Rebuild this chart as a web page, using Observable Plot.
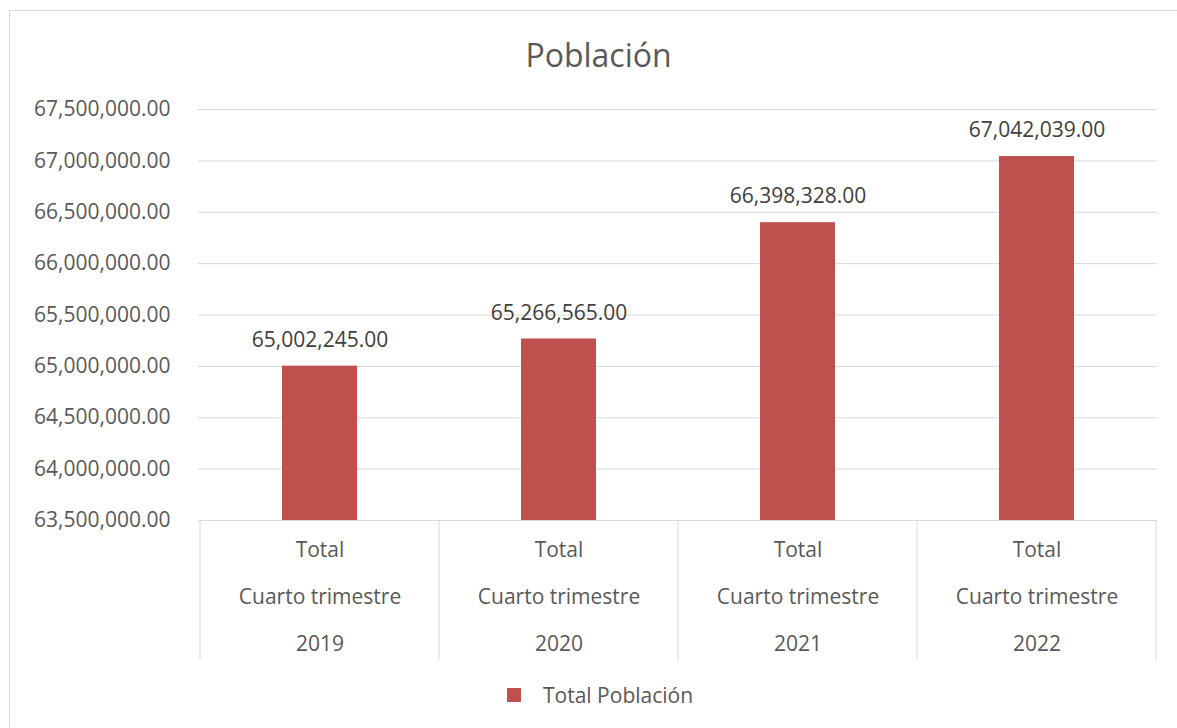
<!DOCTYPE html>
<html>
<head>
<meta charset="utf-8">
<script src="https://cdn.jsdelivr.net/npm/d3@7"></script>
<script src="https://cdn.jsdelivr.net/npm/@observablehq/plot@0.6"></script>
<style>
  body { margin: 0; background: #fff; font-family: "Open Sans", sans-serif; }
  #wrap { position: relative; width: 1177px; height: 728px; overflow: hidden; background: #fff; }
  #border { position: absolute; left: 9px; top: 10px; width: 1200px; height: 760px; border: 1px solid #d9d9d9; box-sizing: border-box; }
  #title { position: absolute; left: 0; width: 1197px; top: 33px; text-align: center; font-size: 32px; color: #595959; line-height: 44px; }
  #chart { position: absolute; left: 0; top: 80px; }
  #legend { position: absolute; top: 680px; left: 507px; height: 30px; display: flex; align-items: center; font-size: 21px; color: #595959; }
  #legend .sw { width: 14px; height: 14px; background: #C0504D; margin-right: 22px; }
</style>
</head>
<body>
<div id="wrap">
  <div id="border"></div>
  <div id="title">Población</div>
  <div id="chart"></div>
  <div id="legend"><span class="sw"></span><span>Total Población</span></div>
</div>
<script>
const categories = ["2019", "2020", "2021", "2022"];
const level1 = ["Total", "Total", "Total", "Total"];
const level2 = ["Cuarto trimestre", "Cuarto trimestre", "Cuarto trimestre", "Cuarto trimestre"];
const values = [65002245, 65266565, 66398328, 67042039];
const yTicks = [63500000, 64000000, 64500000, 65000000, 65500000, 66000000, 66500000, 67000000, 67500000];
const yMin = 63500000;
const yMax = 67500000;
const seriesName = "Total Población";

const data = categories.map((c, i) => ({cat: c, l1: level1[i], l2: level2[i], value: values[i]}));
const fmt = d3.format(",.2f");
const barColor = "#C0504D";
const gridColor = "#d9d9d9";

const separators = (index, scales, values_, dimensions) => {
  const x = scales.x, y = scales.y;
  const g = d3.create("svg:g");
  const bw = x.bandwidth();
  const xs = categories.map(c => x(c)).concat([x(categories[categories.length - 1]) + bw]);
  const y0 = y(yMin);
  const y1 = dimensions.height - 10;
  for (const xv of xs) {
    g.append("line")
      .attr("x1", xv).attr("x2", xv)
      .attr("y1", y0).attr("y2", y1)
      .attr("stroke", gridColor).attr("stroke-width", 1);
  }
  return g.node();
};

const chart = Plot.plot({
  width: 1177,
  height: 590,
  marginTop: 29,
  marginBottom: 150,
  marginLeft: 198,
  marginRight: 20,
  style: {fontFamily: "Open Sans, sans-serif", fontSize: "21px", color: "#595959", background: "transparent", overflow: "visible"},
  x: {domain: categories, padding: 0, axis: null},
  y: {domain: [yMin, yMax], axis: null},
  marks: [
    Plot.ruleY(yTicks, {stroke: gridColor, strokeWidth: 1}),
    Plot.barY(data, {x: "cat", y1: yMin, y2: "value", fill: barColor, insetLeft: 82, insetRight: 82}),
    Plot.text(yTicks, {x: null, y: d => d, text: d => fmt(d), frameAnchor: "left", textAnchor: "end", dx: -28, fill: "#595959", fontSize: 21}),
    Plot.text(data, {x: "cat", y: "value", text: d => fmt(d.value), dy: -26, lineAnchor: "middle", fill: "#404040", fontSize: 21}),
    Plot.text(data, {x: "cat", text: "l1", frameAnchor: "bottom", dy: 30, lineAnchor: "middle", fill: "#595959", fontSize: 21}),
    Plot.text(data, {x: "cat", text: "l2", frameAnchor: "bottom", dy: 77, lineAnchor: "middle", fill: "#595959", fontSize: 21}),
    Plot.text(data, {x: "cat", text: "cat", frameAnchor: "bottom", dy: 124, lineAnchor: "middle", fill: "#595959", fontSize: 21}),
    separators
  ]
});
document.getElementById("chart").appendChild(chart);
</script>
</body>
</html>
